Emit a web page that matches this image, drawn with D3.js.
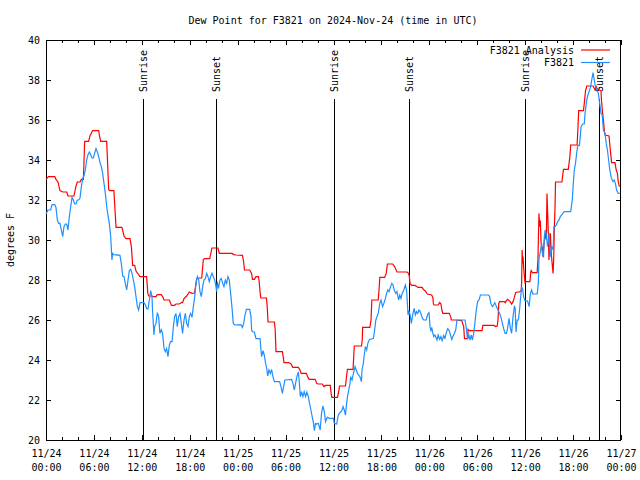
<!DOCTYPE html>
<html>
<head>
<meta charset="utf-8">
<script src="https://cdn.jsdelivr.net/npm/d3@7"></script>
<style>
html,body{margin:0;padding:0;background:#fff;}
svg{display:block;}
text{font-family:"DejaVu Sans Mono","Liberation Mono",monospace;font-size:10px;fill:#000;}
</style>
</head>
<body>
<svg id="chart" width="640" height="480"></svg>
<script>
// ---- data (hours since 2024-11-24 00:00 UTC, degrees F) ----
const titleText = "Dew Point for F3821 on 2024-Nov-24 (time in UTC)";
const yLabel = "degrees F";
const seriesNames = ["F3821 Analysis", "F3821"];
const yTicks = [20, 22, 24, 26, 28, 30, 32, 34, 36, 38, 40];
const xTickHours = [0, 6, 12, 18, 24, 30, 36, 42, 48, 54, 60, 66, 72];
const xTickDates = ["11/24","11/24","11/24","11/24","11/25","11/25","11/25","11/25","11/26","11/26","11/26","11/26","11/27"];
const xTickTimes = ["00:00","06:00","12:00","18:00","00:00","06:00","12:00","18:00","00:00","06:00","12:00","18:00","00:00"];
const eventHours = [12.1, 21.33, 36.1, 45.42, 60.02, 69.28];
const eventLabels = ["Sunrise","Sunset","Sunrise","Sunset","Sunrise","Sunset"];

const analysisData = [
[0,33.03],[0.3,33.17],[1.1,33.17],[1.25,33.03],[1.5,32.9],[1.75,32.47],[2.1,32.4],[2.6,32.4],[2.75,32.2],[3.5,32.2],
[3.76,32.7],[3.92,32.9],[4.26,32.9],[4.43,33.03],[4.68,33.03],[4.84,34.93],[5.34,34.93],[5.5,35.2],[5.84,35.47],[6.6,35.47],
[6.7,35.2],[6.85,34.93],[7.6,34.93],[7.85,32.53],[8.0,32.47],[8.5,32.47],[8.77,30.63],[9.51,30.63],[9.77,30.2],[10.02,30.07],
[10.52,30.07],[10.69,29.67],[10.85,28.73],[11.1,28.73],[11.27,28.45],[11.77,28.17],[12.6,28.17],[12.75,27.33],[12.85,27.2],[13.27,27.2],
[13.4,27.17],[13.77,27.17],[13.94,27.27],[14.44,27.27],[14.6,27.17],[14.78,27.0],[15.45,27.0],[15.7,26.73],[16.1,26.73],[16.27,26.8],
[16.7,26.8],[16.95,26.87],[17.1,26.87],[17.28,27.07],[17.61,27.2],[17.95,27.4],[18.28,27.33],[18.6,27.35],[18.87,28.07],[19.12,28.1],
[19.5,28.1],[19.7,29.03],[19.87,29.07],[20.5,29.07],[20.78,29.6],[21.53,29.6],[21.7,29.33],[23.3,29.33],[23.5,29.27],[23.8,29.25],
[24.6,29.23],[24.75,28.9],[24.85,28.5],[25.5,28.5],[25.75,28.33],[25.85,28.03],[26.1,28.03],[26.3,28.17],[26.6,28.17],[26.7,27.9],
[26.8,27.42],[26.9,27.1],[27.6,27.1],[27.7,26.67],[27.8,25.9],[28.6,25.9],[28.7,25.5],[28.8,24.42],[29.6,24.42],[29.7,24.17],
[29.8,23.87],[30.4,23.87],[30.7,23.8],[30.9,23.63],[31.6,23.63],[31.8,23.5],[31.95,23.33],[32.6,23.33],[32.8,23.13],[32.95,23.03],
[33.7,23.03],[33.9,22.83],[34.05,22.8],[34.6,22.8],[34.8,22.67],[35.0,22.73],[35.6,22.73],[35.7,22.33],[35.8,22.13],[36.5,22.13],
[36.7,22.53],[36.75,22.7],[37.5,22.7],[37.65,23.25],[37.75,23.53],[38.45,23.53],[38.6,24.7],[39.5,24.7],[39.6,25.0],[39.65,25.63],
[40.55,25.63],[40.7,26.0],[40.8,27.0],[41.6,27.0],[41.7,27.5],[41.8,28.13],[42.4,28.13],[42.6,28.33],[42.75,28.8],[43.4,28.8],
[43.65,28.67],[43.95,28.4],[45.2,28.4],[45.4,28.33],[45.5,28.17],[45.58,27.83],[45.8,27.73],[46.2,27.73],[46.4,27.67],[46.6,27.63],
[47.1,27.63],[47.25,27.53],[47.5,27.45],[47.75,27.3],[48.3,27.25],[48.45,27.1],[48.5,26.83],[48.6,26.75],[49.1,26.75],[49.3,26.87],
[49.45,26.8],[49.6,26.45],[49.7,26.33],[50.5,26.33],[50.7,26.13],[50.75,26.0],[51.3,26.0],[52.05,25.97],[52.3,25.67],[52.4,25.07],
[52.8,25.07],[52.85,25.53],[53.0,25.47],[54.6,25.47],[54.7,25.73],[56.1,25.73],[56.3,25.67],[56.5,25.7],[56.6,26.0],[56.7,26.83],
[56.8,26.92],[57.4,26.92],[57.5,26.87],[57.65,26.97],[57.8,27.03],[58.0,26.97],[58.15,26.9],[58.3,26.8],[58.5,26.93],[58.65,27.13],
[58.8,27.37],[59.0,27.4],[59.3,27.4],[59.5,27.47],[59.56,27.87],[59.62,29.5],[59.68,28.83],[59.74,29.17],[59.8,28.67],[59.98,27.87],
[60.1,27.92],[60.6,27.92],[60.7,28.4],[60.75,28.47],[60.9,28.37],[61.5,28.37],[61.6,29.0],[61.65,30.0],[61.73,31.33],[61.82,30.67],
[61.9,30.97],[61.98,30.0],[62.07,29.5],[62.15,29.67],[62.23,29.17],[62.4,30.0],[62.55,30.33],[62.65,30.0],[62.73,32.33],[62.82,31.33],
[62.9,30.33],[62.98,29.0],[63.15,30.33],[63.3,29.17],[63.49,28.33],[63.57,29.0],[63.66,30.67],[63.74,31.67],[63.8,32.9],[64.6,32.9],
[64.7,33.25],[64.8,33.53],[65.4,33.53],[65.6,34.17],[65.7,34.75],[66.5,34.75],[66.6,35.5],[66.7,36.47],[67.3,36.47],[67.4,36.83],
[67.57,37.5],[67.65,37.57],[67.7,37.7],[68.5,37.7],[68.6,37.63],[68.75,37.5],[68.9,37.67],[69.1,37.5],[69.25,37.5],[69.5,37.47],
[69.55,37.0],[69.7,36.33],[69.8,36.0],[69.9,35.5],[70.0,35.25],[70.5,35.2],[70.7,34.33],[70.83,33.87],[71.25,33.87],[71.4,33.5],
[71.55,33.33],[71.65,32.92],[71.8,32.67]
];

const obsData = [
[0.0,31.3],[0.25,31.5],[0.58,31.5],[0.75,31.77],[1.09,31.77],[1.25,31.63],[1.42,31.0],[1.59,30.83],[1.75,30.83],[1.92,30.5],
[2.09,30.17],[2.25,30.67],[2.42,30.8],[2.59,30.8],[2.75,30.5],[2.92,31.17],[3.09,31.67],[3.26,32.13],[3.42,32.0],[3.59,31.8],
[3.76,31.8],[3.92,32.0],[4.09,32.0],[4.26,32.1],[4.43,32.67],[4.59,33.07],[4.76,33.23],[4.93,33.5],[5.09,34.0],[5.26,34.27],
[5.43,34.4],[5.59,34.27],[5.76,34.1],[5.93,34.1],[6.09,34.33],[6.26,34.57],[6.43,34.4],[6.6,34.17],[6.76,33.87],[6.93,33.67],
[7.1,33.33],[7.26,32.83],[7.43,32.33],[7.6,31.67],[7.76,31.23],[7.93,30.83],[8.1,30.17],[8.26,29.0],[8.35,29.33],[8.51,29.27],
[9.26,29.23],[9.43,28.83],[9.6,28.2],[9.77,28.17],[9.93,27.83],[10.1,27.5],[10.27,28.0],[10.44,28.47],[10.6,28.53],[10.77,28.33],
[10.94,28.0],[11.1,27.67],[11.27,27.17],[11.44,26.67],[11.6,26.5],[11.77,26.87],[12.27,26.87],[12.45,26.75],[12.6,26.57],[12.77,26.55],
[12.94,27.0],[13.1,27.47],[13.27,27.17],[13.35,26.4],[13.52,25.25],[13.6,25.67],[13.77,25.83],[13.94,26.37],[14.1,26.17],[14.27,25.33],
[14.44,25.5],[14.6,25.33],[14.78,24.58],[14.94,24.42],[15.1,24.58],[15.27,24.17],[15.45,24.75],[15.6,24.92],[15.78,24.92],[15.95,25.67],
[16.1,26.17],[16.27,26.33],[16.44,25.67],[16.61,26.17],[16.78,26.33],[16.95,25.83],[17.1,25.33],[17.28,26.0],[17.45,26.33],[17.61,25.83],
[17.78,25.67],[17.95,26.17],[18.1,26.33],[18.28,26.13],[18.45,26.67],[18.62,27.17],[18.78,27.83],[18.95,28.17],[19.12,28.0],[19.28,27.42],
[19.45,27.17],[19.62,27.67],[19.78,28.0],[19.95,28.07],[20.12,28.33],[20.28,28.17],[20.45,27.92],[20.62,28.17],[20.78,28.33],[20.95,28.17],
[21.12,28.0],[21.28,27.67],[21.37,27.42],[21.45,27.92],[21.6,27.58],[21.78,28.0],[21.95,28.08],[22.12,27.83],[22.28,27.67],[22.45,28.0],
[22.62,27.83],[22.78,28.17],[22.95,28.0],[23.12,27.33],[23.28,26.67],[23.45,25.83],[23.62,25.75],[24.4,25.77],[24.6,25.63],[24.75,25.83],
[24.92,26.25],[25.1,26.53],[25.5,26.53],[25.67,26.17],[25.75,25.47],[25.9,25.4],[26.1,25.4],[26.2,25.2],[26.3,25.07],[26.8,25.07],
[26.92,24.5],[27.0,24.17],[27.17,24.47],[27.33,24.25],[27.5,23.83],[27.67,23.5],[27.75,23.2],[27.92,23.5],[28.1,23.33],[28.25,23.53],
[28.42,23.17],[28.6,22.92],[29.25,22.92],[29.42,22.67],[29.6,22.33],[29.75,22.67],[29.92,23.0],[30.75,23.03],[30.92,22.83],[31.1,22.5],
[31.25,22.83],[31.42,23.17],[31.6,23.4],[31.7,23.0],[31.85,22.17],[32.0,22.42],[32.17,22.17],[32.33,22.42],[32.5,22.17],[32.67,22.4],
[32.85,22.17],[33.0,21.83],[33.17,21.5],[33.33,21.17],[33.5,20.83],[33.6,20.47],[33.75,20.83],[33.9,20.8],[34.1,20.83],[34.25,20.63],
[34.33,20.5],[34.5,21.33],[34.67,21.7],[34.85,21.42],[35.0,20.92],[35.17,21.08],[35.25,21.13],[35.5,21.08],[36.0,21.08],[36.1,20.83],
[36.4,20.8],[36.56,21.17],[36.7,21.33],[36.9,21.4],[37.06,21.5],[37.2,21.67],[37.35,21.5],[37.5,21.25],[37.6,21.67],[37.75,22.17],
[37.9,22.5],[38.07,22.83],[38.15,23.17],[38.32,23.0],[38.5,23.33],[38.7,23.67],[38.85,23.5],[39.0,23.33],[39.15,23.25],[39.3,23.17],
[39.5,22.92],[39.57,23.5],[39.74,23.83],[39.82,24.17],[40.0,24.67],[40.15,24.5],[40.3,24.83],[40.5,25.03],[41.0,25.07],[41.15,25.5],
[41.3,26.0],[41.45,26.17],[41.6,26.33],[41.8,26.83],[41.95,27.0],[42.15,26.67],[42.3,26.83],[42.5,27.08],[42.65,27.33],[42.8,27.5],
[42.95,27.42],[43.15,27.67],[43.3,27.83],[43.45,27.75],[43.6,27.5],[43.8,27.33],[43.95,27.42],[44.15,27.0],[44.3,27.25],[44.45,27.08],
[44.6,27.33],[44.8,27.5],[45.0,27.75],[45.15,27.5],[45.25,26.83],[45.33,26.25],[45.45,26.42],[45.6,26.25],[45.75,25.83],[45.95,26.33],
[46.1,26.58],[46.25,26.25],[46.4,26.42],[46.55,26.33],[46.7,26.5],[46.85,26.42],[47.0,26.25],[47.15,26.08],[47.3,26.0],[47.6,26.0],
[47.8,26.3],[47.96,26.37],[48.03,26.0],[48.1,25.6],[48.2,25.47],[48.3,25.63],[48.4,25.42],[48.55,25.17],[48.7,25.25],[48.96,25.0],
[49.1,25.25],[49.3,25.03],[49.45,25.17],[49.6,24.97],[49.8,25.23],[49.96,25.08],[50.1,25.33],[50.3,25.57],[50.45,25.5],[50.6,25.33],
[50.8,25.03],[50.95,25.17],[51.1,25.3],[51.3,25.5],[51.46,26.0],[52.47,26.0],[52.6,25.67],[52.7,25.33],[52.78,25.03],[52.95,25.25],
[53.1,25.0],[53.25,25.25],[53.4,25.0],[53.55,25.33],[53.7,25.83],[53.88,26.5],[54.05,26.92],[54.22,27.0],[54.4,27.25],[55.4,27.25],
[55.55,27.17],[55.7,26.83],[55.9,26.67],[56.05,26.75],[56.2,26.87],[56.4,26.67],[56.6,26.5],[56.8,26.33],[56.95,26.17],[57.1,25.92],
[57.3,25.58],[57.48,25.33],[57.65,25.33],[57.8,25.58],[57.98,26.08],[58.15,25.58],[58.3,25.33],[58.48,26.17],[58.65,26.67],[58.75,26.6],
[58.85,25.4],[59.0,26.0],[59.15,26.0],[59.3,26.5],[59.4,27.0],[59.56,27.67],[59.7,27.5],[59.8,27.17],[59.98,26.97],[60.3,26.95],
[60.5,26.67],[60.65,27.33],[60.8,27.5],[60.95,27.3],[61.5,27.3],[61.65,27.83],[61.73,29.08],[61.9,29.42],[62.07,29.83],[62.15,29.33],
[62.3,29.13],[62.4,30.17],[62.5,30.5],[62.65,30.25],[62.8,29.67],[62.9,29.92],[63.0,30.33],[63.1,29.5],[63.2,29.17],[63.32,29.67],
[63.5,29.5],[63.6,30.67],[63.74,30.67],[63.9,30.75],[64.07,30.92],[64.25,31.0],[64.4,31.17],[64.57,31.25],[64.7,31.33],[64.9,31.42],
[65.7,31.42],[65.9,32.0],[66.0,32.67],[66.15,33.5],[66.3,33.83],[66.5,34.5],[66.6,34.73],[66.8,34.73],[67.0,35.67],[67.2,35.8],
[67.4,35.8],[67.5,36.33],[67.65,36.83],[67.8,37.17],[68.0,37.42],[68.2,37.67],[68.33,38.0],[68.5,38.37],[68.65,38.0],[68.8,37.67],
[69.0,37.5],[69.16,37.33],[69.3,36.92],[69.5,36.33],[69.65,36.25],[69.8,35.5],[70.0,35.33],[70.15,34.83],[70.3,34.5],[70.45,34.0],
[70.6,33.5],[70.8,33.08],[71.0,32.92],[71.15,33.0],[71.3,32.83],[71.45,32.5],[71.65,32.33],[71.85,32.33]
];

// ---- layout ----
const svg = d3.select("#chart");
const L = 46, R = 621, T = 40, B = 440;
const x = d3.scaleLinear().domain([0, 72]).range([L, R]);
const y = d3.scaleLinear().domain([20, 40]).range([B, T]);
const minorHours = d3.range(0, 73, 2);

function styleAxis(g) {
  g.attr("font-family", null).attr("font-size", null);
  g.select(".domain").remove();
  g.selectAll(".tick line").attr("stroke", "#000").attr("shape-rendering", "crispEdges");
}

// minor x ticks bottom/top
svg.append("g").attr("transform", `translate(0,${B})`)
  .call(d3.axisBottom(x).tickValues(minorHours).tickSizeInner(-3).tickSizeOuter(0).tickFormat(""))
  .call(styleAxis);
svg.append("g").attr("transform", `translate(0,${T})`)
  .call(d3.axisTop(x).tickValues(minorHours).tickSizeInner(-3).tickSizeOuter(0).tickFormat(""))
  .call(styleAxis);
// major x ticks
const xb = svg.append("g").attr("transform", `translate(0,${B})`)
  .call(d3.axisBottom(x).tickValues(xTickHours).tickSizeInner(-5).tickSizeOuter(0).tickPadding(0))
  .call(styleAxis);
xb.selectAll(".tick text").each(function(d, i) {
  const t = d3.select(this);
  t.text(null).attr("y", null).attr("dy", null);
  t.append("tspan").attr("x", 0).attr("y", 17).text(xTickDates[i]);
  t.append("tspan").attr("x", 0).attr("y", 31).text(xTickTimes[i]);
});
svg.append("g").attr("transform", `translate(0,${T})`)
  .call(d3.axisTop(x).tickValues(xTickHours).tickSizeInner(-5).tickSizeOuter(0).tickFormat(""))
  .call(styleAxis);
// y ticks
svg.append("g").attr("transform", `translate(${L},0)`)
  .call(d3.axisLeft(y).tickValues(yTicks).tickSizeInner(-5).tickSizeOuter(0).tickPadding(6).tickFormat(d3.format("d")))
  .call(styleAxis);
svg.append("g").attr("transform", `translate(${R},0)`)
  .call(d3.axisRight(y).tickValues(yTicks).tickSizeInner(-5).tickSizeOuter(0).tickFormat(""))
  .call(styleAxis);

// frame
svg.append("rect").attr("x", L + 0.5).attr("y", T + 0.5).attr("width", R - L - 1).attr("height", B - T)
  .attr("fill", "none").attr("stroke", "#000").attr("shape-rendering", "crispEdges");

// sunrise/sunset markers
const ev = svg.append("g");
eventHours.forEach((h, i) => {
  const px = Math.round(x(h)) + 0.5;
  ev.append("line").attr("x1", px).attr("x2", px).attr("y1", 99).attr("y2", B)
    .attr("stroke", "#000").attr("shape-rendering", "crispEdges");
  ev.append("text").attr("transform", `translate(${px},92) rotate(-90)`)
    .attr("text-anchor", "start").attr("dy", "0.35em").text(eventLabels[i]);
});

// series
const line = d3.line().x(d => x(d[0])).y(d => y(d[1]));
const colors = ["#ff0000", "#1e90ff"];
[analysisData, obsData].forEach((data, i) => {
  svg.append("path").datum(data).attr("d", line)
    .attr("fill", "none").attr("stroke", colors[i]).attr("stroke-width", 1.2)
    .attr("stroke-linejoin", "miter");
});

// legend
const leg = svg.append("g");
seriesNames.forEach((name, i) => {
  const ly = 50 + i * 12.5;
  leg.append("text").attr("x", 574).attr("y", ly).attr("dy", "0.35em")
    .attr("text-anchor", "end").text(name);
  leg.append("line").attr("x1", 581).attr("x2", 610).attr("y1", ly).attr("y2", ly)
    .attr("stroke", colors[i]).attr("stroke-width", 1.2);
});

// title and y label
svg.append("text").attr("x", 333).attr("y", 20).attr("dy", "0.35em")
  .attr("text-anchor", "middle").text(titleText);
svg.append("text").attr("transform", `translate(10,240) rotate(-90)`)
  .attr("dy", "0.35em").attr("text-anchor", "middle").text(yLabel);
</script>
</body>
</html>
